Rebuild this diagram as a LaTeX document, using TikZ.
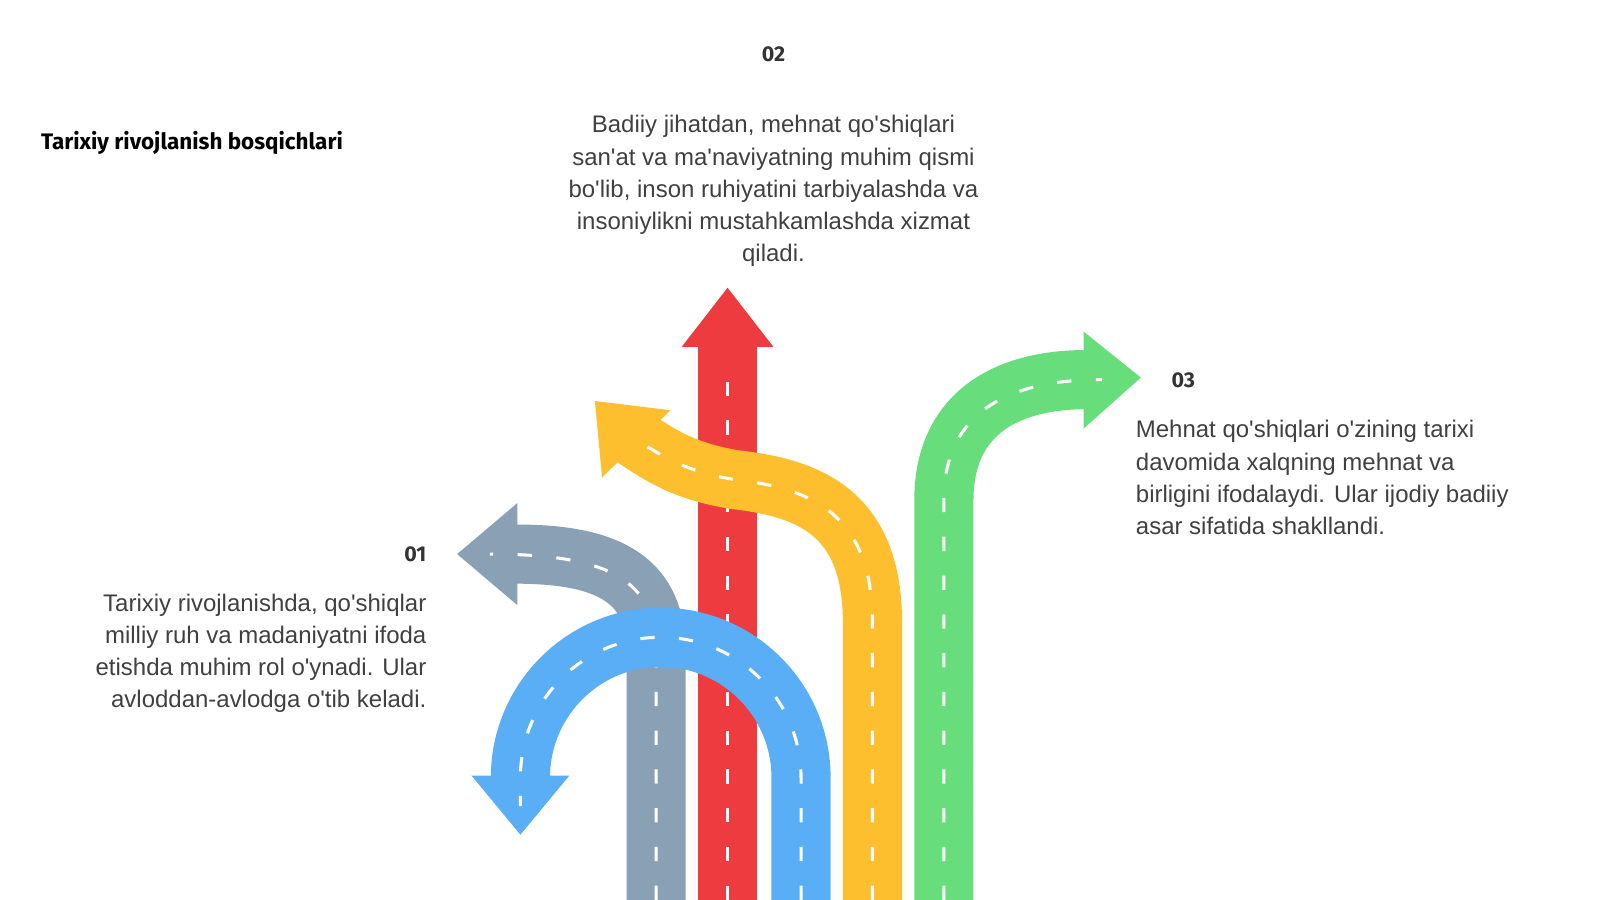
\documentclass[tikz,border=0pt]{standalone}
\usepackage{fontspec}
\setmainfont{Liberation Sans}
\newfontfamily\headf{Fira Sans}
\newcommand\q{\textquotesingle}
\begin{document}
\begin{tikzpicture}[x=1pt,y=-1pt,
 road/.style={line width=58pt},
 mid/.style={white,line width=3pt,dash pattern=on 14pt off 24pt},
 body/.style={font=\fontsize{23.5}{31.5}\selectfont,text=black!75,inner sep=0pt},
 num/.style={font=\headf\bfseries\fontsize{21}{24}\selectfont,text=black!80,inner sep=0pt}]
\useasboundingbox[fill=white] (0,0) rectangle (1568,882);
\definecolor{cg}{HTML}{8AA0B4}\definecolor{cr}{HTML}{EE3B3F}
\definecolor{cy}{HTML}{FDBF2D}\definecolor{cb}{HTML}{5AAEF6}\definecolor{cgr}{HTML}{68DD7C}
% gray
\coordinate (g0) at (643,882);
\draw[road,cg] (g0) -- (643,640) .. controls (643,570) and (600,543) .. (505,543);
\fill[cg] (448,543) -- (507,493) -- (507,593) -- cycle;
\draw[mid] (g0) -- (643,640) .. controls (643,570) and (600,543) .. (480,543);
% red
\draw[road,cr] (713,882) -- (713,338);
\fill[cr] (713,282) -- (668,340) -- (758,340) -- cycle;
\draw[mid] (713,882) -- (713,370);
% yellow
\draw[road,cy] (855,882) -- (855,610) .. controls (855,500) and (790,478) .. (720,470) .. controls (670,462) and (645,445) .. (620,428);
\fill[cy] (583,393) -- (657,402) -- (590,468) -- cycle;
\draw[mid] (855,882) -- (855,610) .. controls (855,500) and (790,478) .. (720,470) .. controls (670,462) and (645,445) .. (615,425);
% blue
\draw[road,cb] (785,882) -- (785,762) arc[start angle=0,end angle=-180,radius=137.5] -- (510,762);
\fill[cb] (510,818) -- (462,760) -- (558,760) -- cycle;
\draw[mid] (785,882) -- (785,762) arc[start angle=0,end angle=-180,radius=137.5] -- (510,790);
% green
\draw[road,cgr] (925,882) -- (925,490) .. controls (925,410) and (980,372) .. (1065,372);
\fill[cgr] (1118,370) -- (1062,325) -- (1062,420) -- cycle;
\draw[mid] (925,882) -- (925,490) .. controls (925,410) and (980,372) .. (1080,372);
% texts
\node[anchor=west,font=\headf\bfseries\fontsize{22}{24}\selectfont,inner sep=0pt] (t) at (40,140) {Tarixiy rivojlanish bosqichlari};
\node[num] (n2) at (758,53) {02};
\node[body,align=center,anchor=north] (b2) at (758,113) {Badiiy jihatdan, mehnat qo\q shiqlari\\san\q at va ma\q naviyatning muhim qismi\\bo\q lib, inson ruhiyatini tarbiyalashda va\\insoniylikni mustahkamlashda xizmat\\qiladi.};
\node[num,anchor=west] (n3) at (1148,373) {03};
\node[body,align=left,anchor=north west] (b3) at (1113,412) {Mehnat qo\q shiqlari o\q zining tarixi\\davomida xalqning mehnat va\\birligini ifodalaydi. Ular ijodiy badiiy\\asar sifatida shakllandi.};
\node[num,anchor=east] (n1) at (418,543) {01};
\node[body,align=right,anchor=north east] (b1) at (418,582) {Tarixiy rivojlanishda, qo\q shiqlar\\milliy ruh va madaniyatni ifoda\\etishda muhim rol o\q ynadi. Ular\\avloddan-avlodga o\q tib keladi.};
\end{tikzpicture}
\end{document}
